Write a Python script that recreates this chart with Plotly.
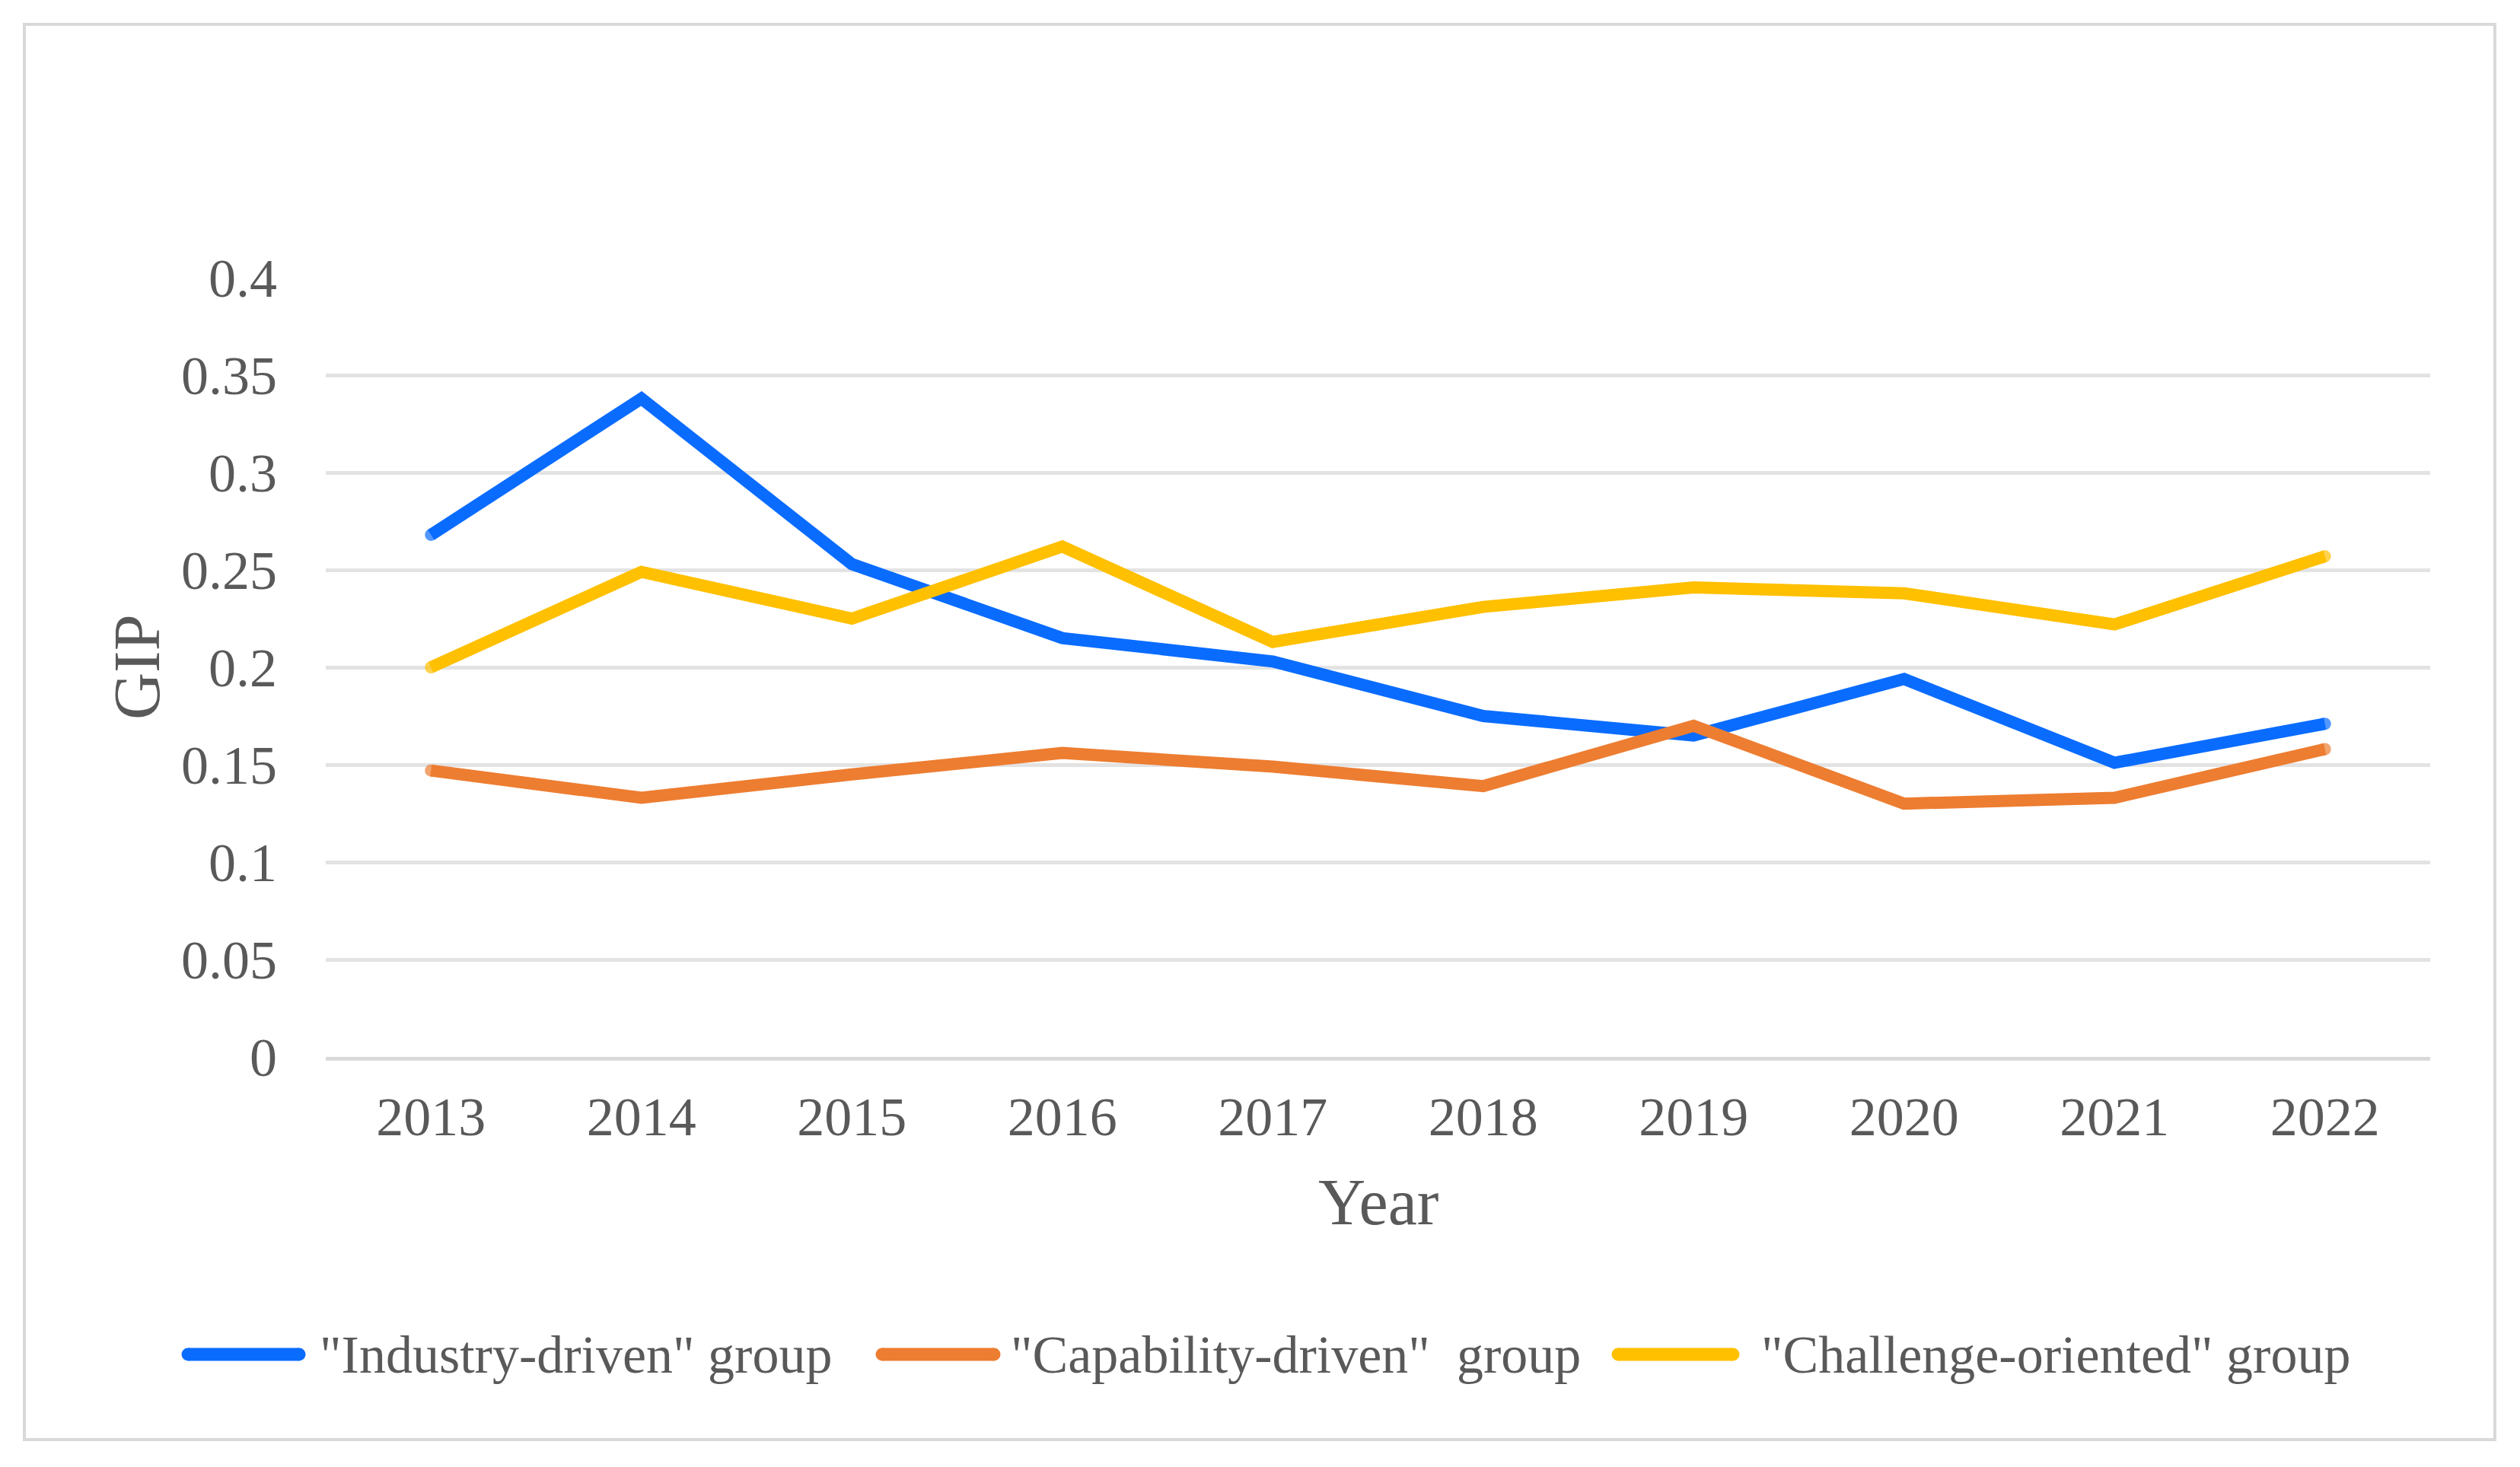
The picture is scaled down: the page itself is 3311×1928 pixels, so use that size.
import plotly.graph_objects as go

years = ["2013", "2014", "2015", "2016", "2017", "2018", "2019", "2020", "2021", "2022"]
industry = [0.268, 0.338, 0.253, 0.215, 0.203, 0.175, 0.165, 0.194, 0.151, 0.171]
capability = [0.147, 0.133, 0.145, 0.156, 0.149, 0.139, 0.170, 0.130, 0.133, 0.158]
challenge = [0.200, 0.249, 0.225, 0.262, 0.213, 0.231, 0.241, 0.238, 0.222, 0.257]
series_names = ['"Industry-driven" group', '"Capability-driven"  group', '"Challenge-oriented" group']
series_colors = ["#0A6CFF", "#ED7D31", "#FFC000"]
y_ticks = [0, 0.05, 0.1, 0.15, 0.2, 0.25, 0.3, 0.35, 0.4]
y_ticktext = ["0", "0.05", "0.1", "0.15", "0.2", "0.25", "0.3", "0.35", "0.4"]

FONT = "Liberation Serif, Times New Roman, serif"
TXT = "#595959"
LW = 16

fig = go.Figure()
for name, vals, col in zip(series_names, [industry, capability, challenge], series_colors):
    # round end caps: markers only at the first and last point
    end_sizes = [LW if i in (0, len(vals) - 1) else 0 for i in range(len(vals))]
    fig.add_trace(go.Scatter(x=years, y=vals, mode="lines+markers", name=name,
                             line=dict(color=col, width=LW, shape="linear"),
                             marker=dict(size=end_sizes, color=col, line=dict(width=0)),
                             hoverinfo="skip", showlegend=False))

W, H = 3311, 1928
OFF = 8  # page body margin offset
L, R, T, B = 428 - OFF, 118 + OFF, 365 - OFF, 539 + OFF
pw, ph = W - L - R, H - T - B

def px_x(px):
    return (px - OFF - L) / pw

def px_y(py):
    return (H - B - (py - OFF)) / ph

# custom legend (symbol start, symbol end, text start) in page pixels
legend_pos = [(239, 401, 418), (1151, 1314, 1326), (2118, 2285, 2312)]
legend_y = 1780

shapes = [
    dict(type="rect", xref="paper", yref="paper", x0=px_x(32), x1=px_x(3278),
         y0=px_y(1892), y1=px_y(32), line=dict(color="#D9D9D9", width=4),
         fillcolor="rgba(0,0,0,0)", layer="below"),
]
annotations = [
    dict(text="GIP", xref="paper", yref="paper", x=px_x(180), y=0.5, textangle=-90,
         showarrow=False, xanchor="center", yanchor="middle",
         font=dict(family=FONT, size=86, color=TXT)),
    dict(text="Year", xref="paper", yref="paper", x=0.5, y=px_y(1580),
         showarrow=False, xanchor="center", yanchor="middle",
         font=dict(family=FONT, size=86, color=TXT)),
]
for (s0, s1, t0), name, col in zip(legend_pos, series_names, series_colors):
    shapes.append(dict(type="line", xref="paper", yref="paper", x0=px_x(s0 + 8), x1=px_x(s1 - 8),
                       y0=px_y(legend_y), y1=px_y(legend_y), line=dict(color=col, width=17)))
    for cx in (s0 + 8, s1 - 8):
        shapes.append(dict(type="circle", xref="paper", yref="paper",
                           x0=px_x(cx - 8.5), x1=px_x(cx + 8.5),
                           y0=px_y(legend_y + 8.5), y1=px_y(legend_y - 8.5),
                           fillcolor=col, line=dict(width=0)))
    annotations.append(dict(text=name, xref="paper", yref="paper", x=px_x(t0), y=px_y(legend_y),
                            showarrow=False, xanchor="left", yanchor="middle",
                            font=dict(family=FONT, size=70, color=TXT)))

fig.update_layout(
    width=W, height=H,
    margin=dict(l=L, r=R, t=T, b=B, autoexpand=False),
    paper_bgcolor="white", plot_bgcolor="white",
    font=dict(family=FONT, color=TXT, size=72),
    showlegend=False,
    xaxis=dict(type="category", range=[-0.5, 9.5], showgrid=False, showline=True,
               linecolor="#D9D9D9", linewidth=5,
               ticks="", tickfont=dict(family=FONT, size=72, color=TXT), ticklabelstandoff=12,
               zeroline=False, fixedrange=True),
    yaxis=dict(range=[0, 0.4], tickvals=y_ticks, ticktext=y_ticktext, showgrid=True,
               gridcolor="#E3E3E3", gridwidth=5, zeroline=False, showline=False, ticks="",
               tickfont=dict(family=FONT, size=72, color=TXT), ticklabelstandoff=63,
               fixedrange=True),
    annotations=annotations,
    shapes=shapes,
)

fig.write_html("out.html")
